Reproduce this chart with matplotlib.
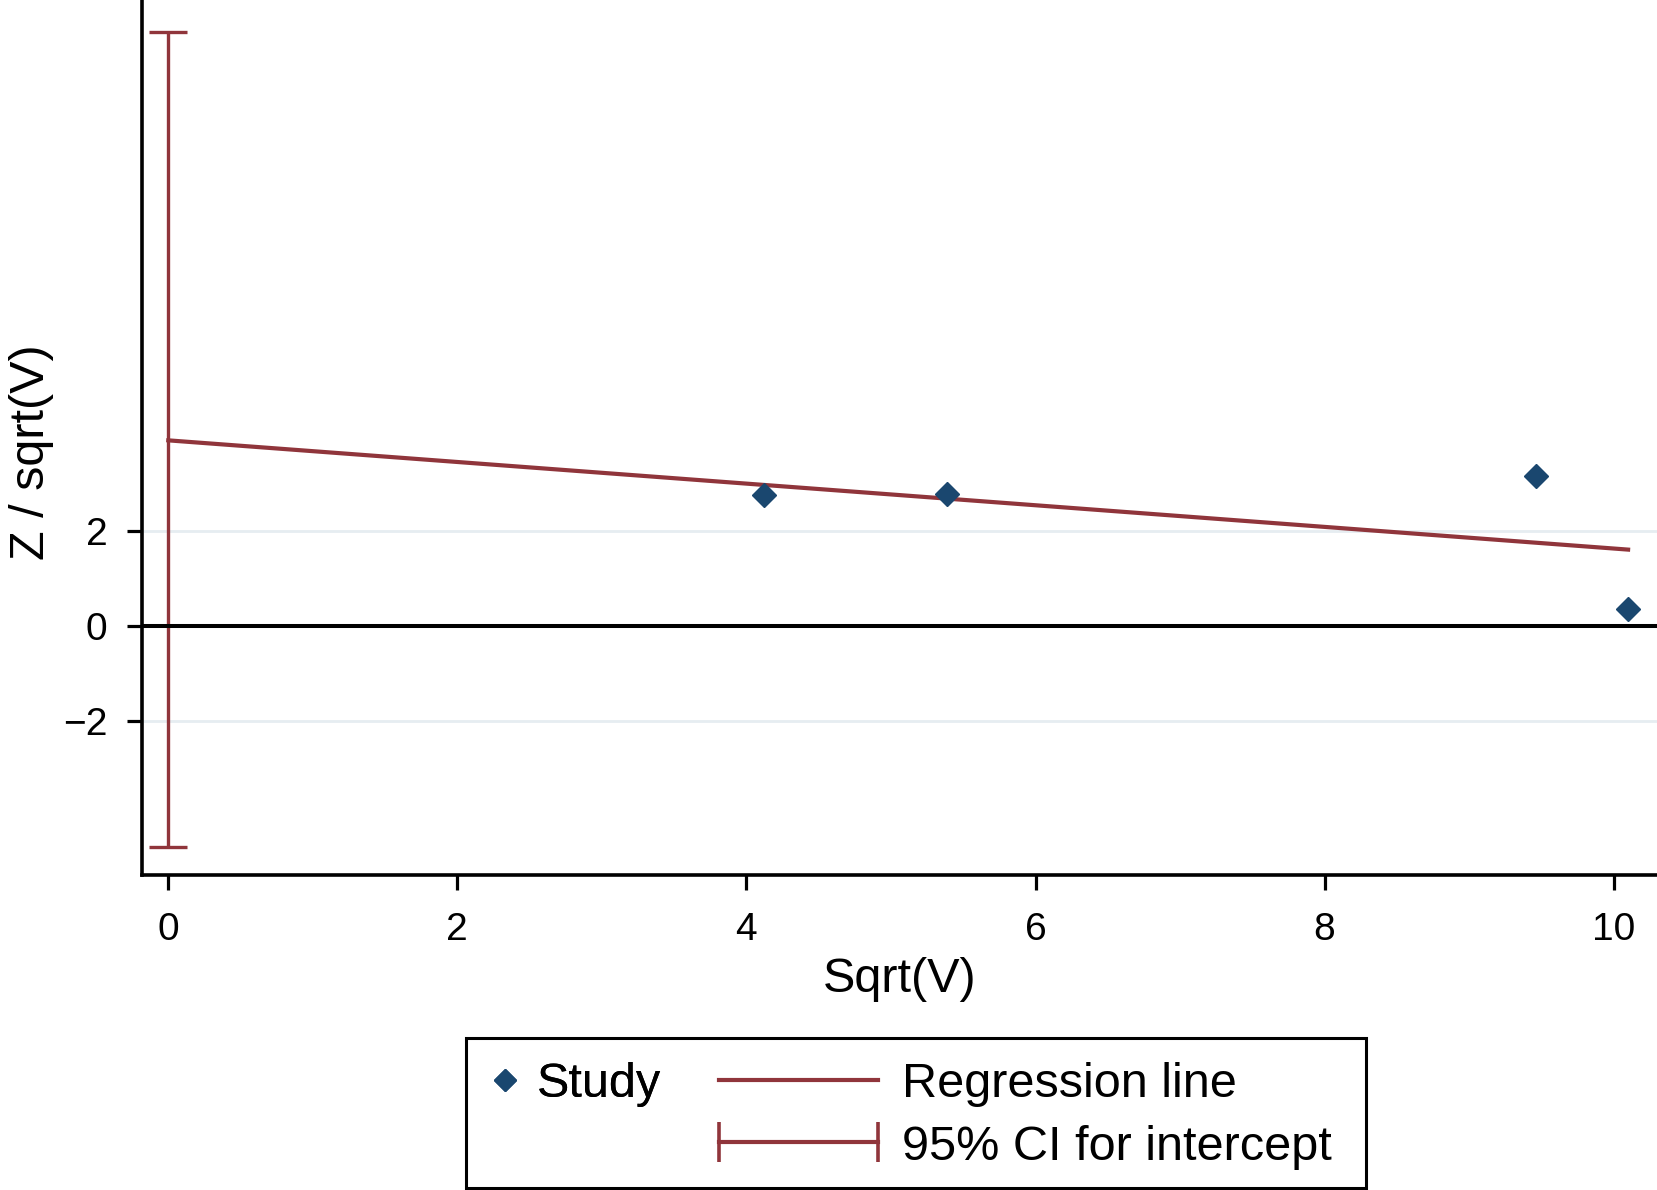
import matplotlib
matplotlib.use("Agg")
import matplotlib.pyplot as plt
from matplotlib.lines import Line2D
from matplotlib.patches import Rectangle
from matplotlib.legend_handler import HandlerLine2D

plt.rcParams['font.family'] = ['Liberation Sans', 'DejaVu Sans']

# ---- data ----
study_x = [4.12, 5.39, 9.46, 10.10]
study_y = [2.77, 2.79, 3.16, 0.36]
reg_x = [0.0, 10.10]
reg_y = [3.91, 1.61]
ci_x = 0.0
ci_low = -4.65
ci_high = 12.50
xticks = [0, 2, 4, 6, 8, 10]
yticks = [-2, 0, 2]
xlabel = "Sqrt(V)"
ylabel = "Z / sqrt(V)"
legend_labels = ["Study", "Regression line", "95% CI for intercept"]

NAVY = "#1a476f"
MAROON = "#90353b"

W, H = 1657, 1190
fig = plt.figure(figsize=(W / 100, H / 100), dpi=100)
ax_left = 141.7 / W
ax_bottom = (H - 875) / H
ax = fig.add_axes([ax_left, ax_bottom, 1 - ax_left, 1 - ax_bottom])

ax.set_xlim(-0.184, 10.30)
ax.set_ylim(-5.24, 13.18)

# gridlines
for yv in yticks:
    if yv != 0:
        ax.axhline(yv, color="#e6edf1", lw=2.0, zorder=0)
# zero line
ax.axhline(0, color="black", lw=2.9, zorder=3)

# CI for intercept
ci_mid = (ci_low + ci_high) / 2
ax.errorbar([ci_x], [ci_mid], yerr=[[ci_mid - ci_low], [ci_high - ci_mid]],
            fmt='none', ecolor=MAROON, elinewidth=2.4, capsize=13.7,
            capthick=2.4, zorder=2)

# regression line
ax.plot(reg_x, reg_y, color=MAROON, lw=3.0, zorder=2)

# studies
ax.plot(study_x, study_y, linestyle='none', marker='D', markersize=12,
        color=NAVY, markeredgecolor=NAVY, zorder=4)

# axes styling
for s in ['top', 'right']:
    ax.spines[s].set_visible(False)
for s in ['left', 'bottom']:
    ax.spines[s].set_linewidth(2.6)
ax.set_xticks(xticks)
ax.set_yticks(yticks)
ax.set_xticklabels([str(v) for v in xticks])
ax.set_yticklabels(["\u22122" if v == -2 else str(v) for v in yticks])
ax.tick_params(axis='both', direction='out', length=10.8, width=2.3,
               labelsize=28, colors='black')
ax.tick_params(axis='y', pad=14)
ax.tick_params(axis='x', pad=16)

ax.set_xlabel(xlabel, fontsize=35, labelpad=6)
ax.set_ylabel(ylabel, fontsize=35)
ax.yaxis.set_label_coords(-0.058, 0.483)

# ---- legend ----
h_study = Line2D([], [], linestyle='none', marker='D', markersize=11,
                 color=NAVY)
h_reg = Line2D([], [], color=MAROON, lw=3.0)
h_ci = Line2D([], [], color=MAROON, lw=3.0, marker='|', markersize=28.8,
              markeredgewidth=2.6)

top_y = 1 - 1062 / H
legA = fig.legend([h_study], [legend_labels[0]], loc='upper left',
                  bbox_to_anchor=(490.5 / W, top_y),
                  frameon=False, fontsize=35, handlelength=0.6,
                  handletextpad=0.35, borderpad=0, borderaxespad=0)
legB = fig.legend([h_reg, h_ci], legend_labels[1:], loc='upper left',
                  bbox_to_anchor=(719 / W, top_y),
                  frameon=False, fontsize=35, handlelength=3.27,
                  handletextpad=0.5, borderpad=0, borderaxespad=0,
                  labelspacing=0.36,
                  handler_map={h_ci: HandlerLine2D(numpoints=2, marker_pad=0)})
fig.add_artist(legA)

box = Rectangle((465.7 / W, 2 / H), (1366 - 465.7) / W, (1188 - 1038) / H,
                transform=fig.transFigure, fill=False, edgecolor='black',
                lw=2.2)
fig.add_artist(box)

fig.savefig("out.png", dpi=100)
